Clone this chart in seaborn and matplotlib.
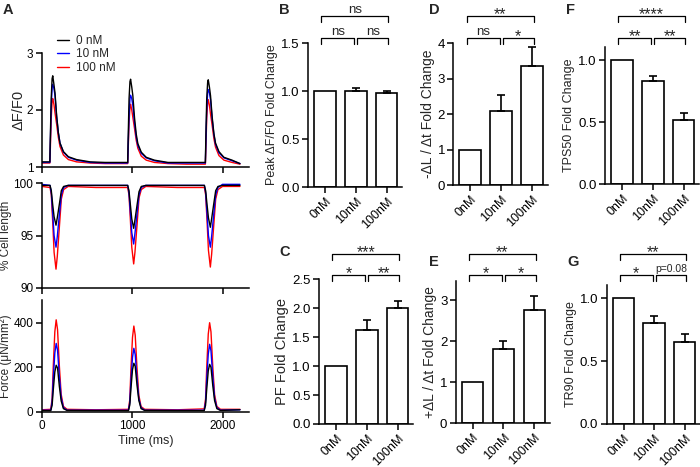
import matplotlib
matplotlib.use("Agg")
import matplotlib.pyplot as plt
import seaborn as sns
from matplotlib import font_manager
from matplotlib.transforms import blended_transform_factory

# ---------------- data ----------------
conc_labels = ["0 nM", "10 nM", "100 nM"]
trace_colors = ["black", "#0000ff", "#ff0000"]

# A, calcium transient (dF/F0)
ca_time = [0,
           90, 95, 105, 115, 122, 135, 147, 165, 184, 202, 240, 295, 385, 535,
           700,
           950, 955, 965, 975, 982, 995, 1007, 1025, 1044, 1062, 1100, 1155, 1245, 1395,
           1600,
           1808, 1813, 1823, 1833, 1840, 1853, 1865, 1883, 1902, 1920, 1958, 2013, 2103,
           2190]
ca_0 = [1.09,
        1.09, 1.5, 2.2, 2.55, 2.6, 2.45, 2.3, 1.9, 1.6, 1.42, 1.27, 1.18, 1.13, 1.09,
        1.08,
        1.08, 1.5, 2.2, 2.5, 2.54, 2.4, 2.25, 1.87, 1.58, 1.41, 1.26, 1.17, 1.12, 1.08,
        1.08,
        1.08, 1.5, 2.2, 2.48, 2.53, 2.4, 2.25, 1.88, 1.59, 1.42, 1.27, 1.17, 1.12,
        1.06]
ca_10 = [1.08,
         1.08, 1.4, 2.05, 2.4, 2.45, 2.38, 2.25, 1.88, 1.6, 1.42, 1.26, 1.17, 1.12, 1.08,
         1.07,
         1.07, 1.35, 1.9, 2.2, 2.26, 2.2, 2.08, 1.78, 1.53, 1.38, 1.24, 1.16, 1.11, 1.07,
         1.07,
         1.07, 1.4, 2.0, 2.3, 2.36, 2.3, 2.18, 1.84, 1.57, 1.4, 1.25, 1.16, 1.11,
         1.06]
ca_100 = [1.07,
          1.07, 1.3, 1.85, 2.15, 2.2, 2.1, 1.95, 1.75, 1.52, 1.36, 1.21, 1.13, 1.09, 1.07,
          1.06,
          1.06, 1.28, 1.78, 2.05, 2.1, 2.0, 1.87, 1.68, 1.47, 1.33, 1.19, 1.12, 1.08, 1.06,
          1.05,
          1.05, 1.3, 1.85, 2.13, 2.18, 2.08, 1.93, 1.73, 1.5, 1.35, 1.2, 1.12, 1.08,
          1.05]

# A, % cell length
cl_time = [0, 92, 106, 121, 137, 158, 172, 195, 217, 242, 292, 600,
           950, 964, 979, 995, 1016, 1030, 1053, 1075, 1100, 1150, 1500,
           1797, 1811, 1826, 1842, 1863, 1877, 1900, 1922, 1947, 1997, 2190]
cl_0 = [99.8, 99.8, 99.3, 98.0, 96.8, 96.0, 96.7, 98.0, 99.3, 99.7, 99.8, 99.8,
        99.8, 99.3, 98.0, 96.6, 95.7, 96.5, 97.9, 99.2, 99.7, 99.8, 99.8,
        99.8, 99.3, 98.0, 96.7, 95.8, 96.6, 98.0, 99.3, 99.7, 99.8, 99.8]
cl_10 = [99.9, 99.8, 99.1, 97.2, 95.0, 93.9, 94.9, 97.0, 98.9, 99.6, 99.8, 99.8,
         99.8, 99.1, 97.3, 95.3, 94.2, 95.2, 97.1, 98.9, 99.6, 99.8, 99.8,
         99.8, 99.1, 97.2, 95.0, 93.9, 94.9, 97.0, 98.9, 99.6, 99.9, 99.9]
cl_100 = [99.7, 99.6, 98.9, 96.4, 93.4, 91.8, 93.0, 95.8, 98.5, 99.4, 99.7, 99.6,
          99.6, 98.9, 96.6, 93.9, 92.3, 93.4, 96.0, 98.6, 99.4, 99.7, 99.6,
          99.6, 98.9, 96.5, 93.6, 92.0, 93.2, 95.9, 98.5, 99.4, 99.7, 99.7]

# A, force
f_time = [0, 100, 115, 128, 145, 160, 175, 195, 215, 240, 280, 600,
          958, 973, 986, 1003, 1018, 1033, 1053, 1073, 1098, 1138, 1500,
          1795, 1810, 1823, 1840, 1855, 1870, 1890, 1910, 1935, 1975, 2190]
f_0 = [6, 6, 30, 100, 180, 210, 198, 115, 50, 15, 7, 6,
       6, 31, 105, 190, 219, 205, 120, 52, 15, 7, 6,
       6, 30, 102, 185, 214, 201, 118, 51, 15, 7, 10]
f_10 = [8, 8, 45, 150, 265, 308, 278, 160, 65, 20, 8, 8,
        8, 42, 142, 245, 286, 258, 150, 60, 19, 8, 8,
        8, 44, 148, 260, 304, 275, 158, 63, 20, 8, 10]
f_100 = [10, 12, 60, 207, 360, 414, 370, 207, 80, 25, 12, 10,
         12, 55, 195, 335, 386, 345, 195, 75, 24, 12, 10,
         14, 58, 200, 350, 401, 360, 202, 78, 25, 12, 12]

# B-G, fold change bars (mean, upper SEM)
bar_conc = ["0nM", "10nM", "100nM"]
peak_ca = [1.0, 1.0, 0.975]
peak_ca_err = [0, 0.027, 0.025]
pf = [1.0, 1.62, 2.01]
pf_err = [0, 0.17, 0.12]
short_rate = [1.0, 2.08, 3.37]
short_rate_err = [0, 0.47, 0.53]
relen_rate = [1.0, 1.82, 2.77]
relen_rate_err = [0, 0.2, 0.33]
tps50 = [1.0, 0.834, 0.517]
tps50_err = [0, 0.035, 0.058]
tr90 = [1.0, 0.805, 0.652]
tr90_err = [0, 0.055, 0.067]

sig_B = ["ns", "ns", "ns"]
sig_C = ["*", "**", "***"]
sig_D = ["ns", "*", "**"]
sig_E = ["*", "*", "**"]
sig_F = ["**", "**", "****"]
sig_G = ["*", "p=0.08", "**"]

# ---------------- style ----------------
sns.set_style("ticks")
plt.rcParams["font.family"] = ["Liberation Sans", "DejaVu Sans"]
installed = {f.name for f in font_manager.fontManager.ttflist}
NARROW = "Liberation Sans Narrow" if "Liberation Sans Narrow" in installed else "Liberation Sans"
plt.rcParams.update({
    "axes.linewidth": 1.1,
    "xtick.major.width": 1.1, "ytick.major.width": 1.1,
    "xtick.major.size": 4, "ytick.major.size": 4,
    "xtick.major.pad": 2, "ytick.major.pad": 2,
    "axes.edgecolor": "black",
    "xtick.color": "black", "ytick.color": "black",
})

W, H = 700, 467
fig = plt.figure(figsize=(W / 100, H / 100), dpi=100)


def px_axes(l, t, r, b):
    return fig.add_axes([l / W, 1 - b / H, (r - l) / W, (b - t) / H])


# ---------------- panel A ----------------
ax_ca = px_axes(41.7, 53, 249, 167)
ax_cl = px_axes(41.7, 183.3, 249, 288)
ax_f = px_axes(41.7, 300, 249, 412)

traces = [
    (ax_ca, ca_time, [ca_0, ca_10, ca_100]),
    (ax_cl, cl_time, [cl_0, cl_10, cl_100]),
    (ax_f, f_time, [f_0, f_10, f_100]),
]
for ax, t, series in traces:
    # red first so black sits on top
    for vals, col in zip(series[::-1], trace_colors[::-1]):
        sns.lineplot(x=t, y=vals, ax=ax, color=col, lw=1.0, estimator=None)
    ax.set_xlim(0, 2290)
    ax.set_xticks([0, 1000, 2000])
    ax.tick_params(labelsize=8.5)

ax_ca.set_ylim(1, 3)
ax_ca.set_yticks([1, 2, 3])
ax_ca.set_xticklabels([])
ax_ca.set_ylabel("ΔF/F0", fontsize=10.5, labelpad=1)

ax_cl.set_ylim(90, 100)
ax_cl.set_yticks([90, 95, 100])
ax_cl.set_xticklabels([])
ax_cl.set_ylabel("% Cell length", fontsize=8.5, labelpad=1)

ax_f.set_ylim(0, 503)
ax_f.set_yticks([0, 200, 400])
ax_f.set_ylabel("Force (μN/mm²)", fontsize=8.5, labelpad=1)
ax_f.set_xlabel("Time (ms)", fontsize=9, labelpad=2)

handles = ax_ca.get_lines()[::-1]
ax_ca.legend(handles, conc_labels, loc="upper left", bbox_to_anchor=(57 / W, 1 - 35 / H),
             bbox_transform=fig.transFigure, frameon=False, fontsize=8.5,
             handlelength=1.0, handletextpad=0.6, labelspacing=0.12,
             borderpad=0, borderaxespad=0)

# ---------------- panels B-G ----------------
bar_panels = [
    # box (l, t, r, b), values, errors, ylim top, yticks, fmt, ylabel, label size, sigs, row
    ((308, 43, 402, 187), peak_ca, peak_ca_err, 1.5, [0, 0.5, 1.0, 1.5], "{:.1f}",
     "Peak ΔF/F0 Fold Change", 9, sig_B, 0),
    ((453.3, 43.3, 547.5, 185), short_rate, short_rate_err, 4.0, [0, 1, 2, 3, 4], "{:.0f}",
     "-ΔL / Δt Fold Change", 10, sig_D, 0),
    ((605, 46.7, 699, 184.3), tps50, tps50_err, 1.107, [0, 0.5, 1.0], "{:.1f}",
     "TPS50 Fold Change", 9, sig_F, 0),
    ((319, 279.3, 413, 424), pf, pf_err, 2.5, [0, 0.5, 1.0, 1.5, 2.0, 2.5], "{:.1f}",
     "PF Fold Change", 10.5, sig_C, 1),
    ((455.7, 280.7, 549.7, 423.3), relen_rate, relen_rate_err, 3.48, [0, 1, 2, 3], "{:.0f}",
     "+ΔL / Δt Fold Change", 10, sig_E, 1),
    ((606.7, 285, 700, 424), tr90, tr90_err, 1.106, [0, 0.5, 1.0], "{:.1f}",
     "TR90 Fold Change", 9, sig_G, 1),
]

bracket_y = {0: (38, 16), 1: (275, 254)}


def bracket(ax, x0, x1, ypix, label):
    trans = blended_transform_factory(ax.transData, fig.transFigure)
    y = 1 - ypix / H
    d = 6 / H
    ax.plot([x0, x0, x1, x1], [y - d, y, y, y - d], transform=trans,
            color="black", lw=0.9, clip_on=False)
    if label.startswith("*"):
        ax.text((x0 + x1) / 2, y - 3.5 / H, label, transform=trans, ha="center",
                va="baseline", fontsize=11.5, family=NARROW)
    elif label.startswith("p"):
        ax.text((x0 + x1) / 2, y + 3 / H, label, transform=trans, ha="center",
                va="baseline", fontsize=7.5, family=NARROW)
    else:
        ax.text((x0 + x1) / 2, y + 3 / H, label, transform=trans, ha="center",
                va="baseline", fontsize=9.5, family=NARROW)


for box, vals, errs, ytop, yt, fmt, ylab, lab_fs, sigs, row in bar_panels:
    ax = px_axes(*box)
    sns.barplot(x=bar_conc, y=vals, ax=ax, color="white", edgecolor="black",
                linewidth=1.2, width=0.7, saturation=1, errorbar=None)
    ax.errorbar([1, 2], vals[1:], yerr=[[0, 0], errs[1:]], fmt="none", ecolor="black",
                elinewidth=1.2, capsize=3, capthick=1.2, zorder=5)
    ax.set_xlim(-0.55, 2.5)
    ax.set_ylim(0, ytop)
    ax.set_yticks(yt)
    ax.set_yticklabels([fmt.format(v) for v in yt], fontsize=9.5, family=NARROW)
    ax.set_xticks([0, 1, 2])
    ax.set_xticklabels(bar_conc, fontsize=9, rotation=45, ha="right", va="top",
                       rotation_mode="anchor")
    ax.set_xlabel("")
    ax.set_ylabel(ylab, fontsize=lab_fs, labelpad=2)
    low, up = bracket_y[row]
    bracket(ax, -0.12, 0.95, low, sigs[0])
    bracket(ax, 1.05, 2.05, low, sigs[1])
    bracket(ax, -0.12, 2.05, up, sigs[2])

sns.despine(fig=fig)

# panel letters
for letter, x, y in [("A", 3, 13.5), ("B", 279, 14), ("D", 429, 14), ("F", 566, 14),
                     ("C", 279, 255.7), ("E", 429, 265.7), ("G", 567, 265.7)]:
    fig.text(x / W, 1 - y / H, letter, fontsize=10.5, fontweight="bold",
             ha="left", va="baseline")

fig.savefig("out.png", dpi=100)
